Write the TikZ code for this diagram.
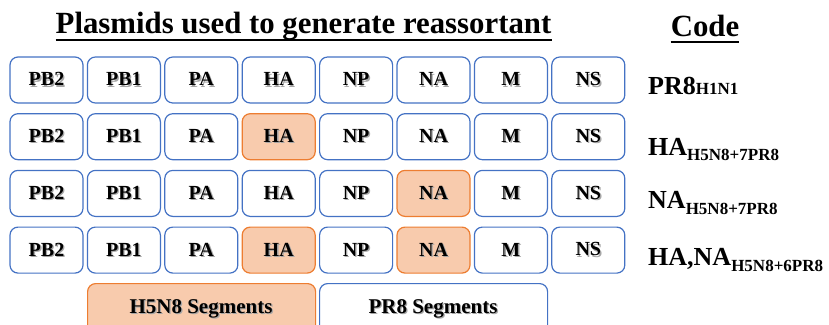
\documentclass[tikz,border=0pt]{standalone}
\usepackage{fontspec}
\setmainfont{Liberation Serif}
\definecolor{segblue}{HTML}{4472C4}
\definecolor{segorange}{HTML}{ED7D31}
\definecolor{segfill}{HTML}{F8CBAD}
% bold label with a soft grey drop shadow behind it
\newcommand\shadowtxt[1]{\makebox[0pt][l]{\kern1.3pt\raisebox{-1.3pt}{\color{black!35}#1}}#1}
\newcommand\subsz{\fontsize{17}{17}\selectfont}
\begin{document}
\begin{tikzpicture}[x=1pt,y=-1pt,
  seg0/.style={draw=segblue, fill=white, line width=1.2pt, rounded corners=8pt,
    minimum width=73pt, minimum height=46pt, inner sep=0pt,
    font=\bfseries\fontsize{20}{20}\selectfont},
  seg1/.style={seg0, draw=segorange, fill=segfill},
  legend/.style={line width=1.2pt, rounded corners=8pt, minimum width=228pt,
    minimum height=70pt, inner sep=0pt, anchor=north west},
  legendtext/.style={anchor=base, inner sep=0pt, font=\bfseries\fontsize{21}{21}\selectfont},
  code/.style={anchor=base west, inner sep=0pt, font=\bfseries\fontsize{26}{26}\selectfont},
  heading/.style={anchor=base, inner sep=0pt, font=\bfseries\fontsize{30.8}{31}\selectfont},
  uline/.style={line width=2.6pt}]
\useasboundingbox (0,0) rectangle (829,324);
\clip (0,0) rectangle (829,324);

% headings
\node[heading] (title) at (303.5,33) {Plasmids used to generate reassortant};
\node[heading] (code) at (705,36) {Code};
\draw[uline] ([yshift=-7pt]title.base west) -- ([yshift=-7pt]title.base east);
\draw[uline] ([yshift=-6pt]code.base west) -- ([yshift=-6pt]code.base east);

% segment grid: four plasmid sets of eight segments
\foreach \r in {0,...,3} {
  \foreach \lab [count=\c from 0] in {PB2,PB1,PA,HA,NP,NA,M,NS} {
    \pgfmathtruncatemacro\hi{((\r==1)&&(\c==3)) || ((\r==2)&&(\c==5)) || ((\r==3)&&((\c==3)||(\c==5)))}
    \node[seg\hi] (s\r\c) at (46.5+77.4*\c, 80+56.7*\r) {\shadowtxt{\lab}};
  }
}

% reassortant codes
\node[code] (c0) at (648,94) {PR8{\subsz H1N1}};
\node[code] (c1) at (648,155) {HA\raisebox{-5pt}{\subsz H5N8+7PR8}};
\node[code] (c2) at (648,208) {NA\raisebox{-6pt}{\subsz H5N8+7PR8}};
\node[code] (c3) at (648,265) {HA,NA\raisebox{-6pt}{\subsz H5N8+6PR8}};

% legend
\node[legend, draw=segorange, fill=segfill] (lh5) at (87,283) {};
\node[legend, draw=segblue, fill=white] (lpr8) at (319,283) {};
\node[legendtext] (lh5t) at (201,313) {\shadowtxt{H5N8 Segments}};
\node[legendtext] (lpr8t) at (433,313) {\shadowtxt{PR8 Segments}};
\end{tikzpicture}
\end{document}
